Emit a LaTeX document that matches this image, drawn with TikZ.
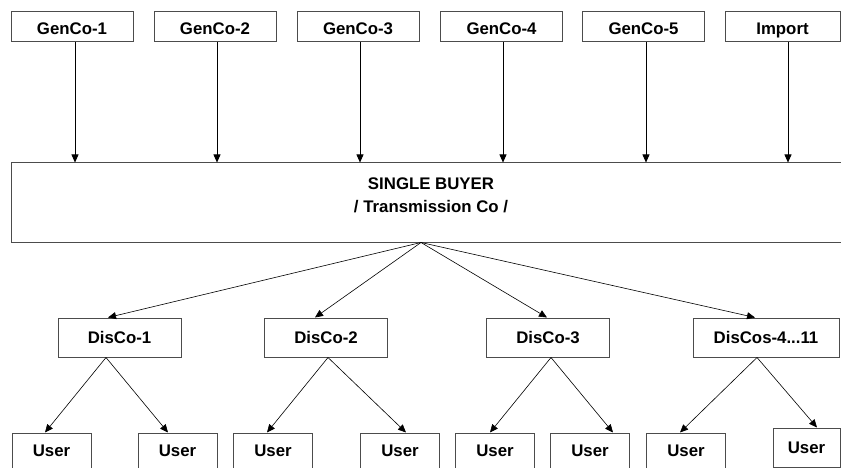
\documentclass[tikz,border=0pt]{standalone}
\usepackage{fontspec}
\setmainfont{Liberation Sans}
\usetikzlibrary{arrows.meta}

\begin{document}
\begin{tikzpicture}[x=1pt,y=-1pt,
  box/.style={draw=black!70, line width=1pt, fill=white, inner sep=0pt,
    font=\bfseries\fontsize{16.8}{20}\selectfont},
  genbox/.style={box, minimum width=122pt, minimum height=30pt,
    text height=16pt, text depth=0pt},
  disbox/.style={box, minimum width=123pt, minimum height=39pt},
  userbox/.style={box, minimum width=79pt, minimum height=36pt},
  arr/.style={line width=0.6pt, -{Triangle[length=8pt,width=7pt]}}]

  % page frame
  \clip (0,0) rectangle (841,468);
  \fill[white] (0,0) rectangle (841,468);

  % generating companies and import
  \node[genbox] (g1) at (72,27)    {GenCo-1};
  \node[genbox] (g2) at (215,27)   {GenCo-2};
  \node[genbox] (g3) at (358,27)   {GenCo-3};
  \node[genbox] (g4) at (501.5,27) {GenCo-4};
  \node[genbox] (g5) at (643.5,27) {GenCo-5};
  \node[genbox, minimum width=115pt] (imp) at (782.5,27) {Import};

  % single buyer (runs past the right edge)
  \node[box, minimum width=840pt, minimum height=79pt] (sb) at (431,202.5) {};
  \node[font=\bfseries\fontsize{16.8}{23}\selectfont, align=center, inner sep=0pt]
    (sbtext) at (431,195) {SINGLE BUYER\\/ Transmission Co /};
  \coordinate (fan) at ([xshift=-10pt]sb.south);

  % distribution companies
  \node[disbox] (d1) at (119.5,337.5) {DisCo-1};
  \node[disbox] (d2) at (326,337.5)   {DisCo-2};
  \node[disbox] (d3) at (548,337.5)   {DisCo-3};
  \node[disbox, minimum width=146pt] (d4) at (766,337.5) {DisCos-4...11};

  % users
  \node[userbox] (u1) at (51.5,451)  {User};
  \node[userbox] (u2) at (177.5,451) {User};
  \node[userbox] (u3) at (273,451)   {User};
  \node[userbox] (u4) at (400,451)   {User};
  \node[userbox] (u5) at (495,451)   {User};
  \node[userbox] (u6) at (590,451)   {User};
  \node[userbox] (u7) at (686,451)   {User};
  \node[userbox, minimum width=67pt, minimum height=39pt] (u8) at (806.5,447.5) {User};

  % supply into the single buyer
  \draw[arr] ([xshift=3pt]g1.south)    -- ([xshift=3pt]g1.south |- sb.north);
  \draw[arr] ([xshift=2pt]g2.south)    -- ([xshift=2pt]g2.south |- sb.north);
  \draw[arr] ([xshift=2pt]g3.south)    -- ([xshift=2pt]g3.south |- sb.north);
  \draw[arr] ([xshift=1.5pt]g4.south)  -- ([xshift=1.5pt]g4.south |- sb.north);
  \draw[arr] ([xshift=2.5pt]g5.south)  -- ([xshift=2.5pt]g5.south |- sb.north);
  \draw[arr] ([xshift=5.5pt]imp.south) -- ([xshift=5.5pt]imp.south |- sb.north);

  % single buyer to distribution companies
  \draw[arr] (fan) -- ([xshift=-11.5pt]d1.north);
  \draw[arr] (fan) -- ([xshift=-11pt]d2.north);
  \draw[arr] (fan) -- ([xshift=-1pt]d3.north);
  \draw[arr] (fan) -- ([xshift=-11pt]d4.north);

  % distribution companies to users
  \draw[arr] ([xshift=-13.5pt]d1.south) -- ([xshift=-6.5pt]u1.north);
  \draw[arr] ([xshift=-13.5pt]d1.south) -- ([xshift=-9.5pt]u2.north);
  \draw[arr] ([xshift=2pt]d2.south)     -- ([xshift=-6pt]u3.north);
  \draw[arr] ([xshift=2pt]d2.south)     -- ([xshift=6pt]u4.north);
  \draw[arr] ([xshift=3pt]d3.south)     -- ([xshift=-5pt]u5.north);
  \draw[arr] ([xshift=3pt]d3.south)     -- ([xshift=23pt]u6.north);
  \draw[arr] ([xshift=-9pt]d4.south)    -- ([xshift=-6pt]u7.north);
  \draw[arr] ([xshift=-9pt]d4.south)    -- ([xshift=10.5pt]u8.north);
\end{tikzpicture}
\end{document}
